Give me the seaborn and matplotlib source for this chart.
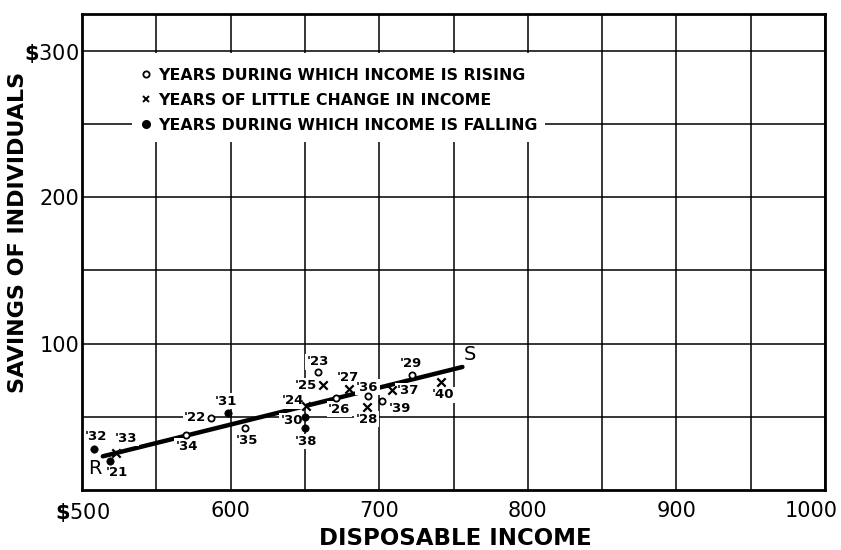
import numpy as np
import pandas as pd
import matplotlib
matplotlib.use("Agg")
import matplotlib.pyplot as plt
import seaborn as sns
from matplotlib.lines import Line2D
from matplotlib.patches import Rectangle
from matplotlib.transforms import ScaledTranslation

# ---------------- data ----------------
years = ["'21", "'22", "'23", "'24", "'25", "'26", "'27", "'28", "'29", "'30",
         "'31", "'32", "'33", "'34", "'35", "'36", "'37", "'38", "'39", "'40"]
income = [518.8, 587, 658.6, 650.8, 662, 671, 680, 691.5, 722, 650,
          598, 508.3, 523, 570, 610, 692.6, 708.5, 650, 702, 741.8]
savings = [20, 49, 80.6, 57.5, 71.4, 62.8, 69, 56.6, 78.8, 50,
           52.5, 28, 25.5, 37.5, 42, 64, 68, 42, 61, 73.8]
trend = ["falling", "rising", "rising", "little", "little", "rising", "little", "little", "rising", "falling",
         "falling", "falling", "little", "rising", "rising", "rising", "little", "falling", "rising", "little"]

line_income = [514, 756]
line_savings = [23, 84]
line_labels = ["R", "S"]

x_ticks = [500, 600, 700, 800, 900, 1000]
x_tick_labels = [r"$\mathbf{\$}$500", "600", "700", "800", "900", "1000"]
y_ticks = [100, 200, 300]
y_tick_labels = ["100", "200", r"$\mathbf{\$}$300"]
legend_labels = ["YEARS DURING WHICH INCOME IS RISING",
                 "YEARS OF LITTLE CHANGE IN INCOME",
                 "YEARS DURING WHICH INCOME IS FALLING"]
x_label = "DISPOSABLE INCOME"
y_label = "SAVINGS OF INDIVIDUALS"

# label offsets in pixels (dx, dy up)
label_offsets = {"'32": (2, 12), "'33": (10, 14), "'21": (7, -12), "'22": (-16, 1),
                 "'31": (-2, 12), "'34": (1, -11), "'35": (1, -12), "'24": (-13, 5),
                 "'30": (-13, -4), "'38": (1, -13), "'23": (0, 10), "'25": (-17, 0),
                 "'27": (-2, 11), "'26": (3, -11), "'36": (-1, 9), "'28": (0, -12),
                 "'37": (16, 0), "'39": (18, -8), "'29": (-1, 11), "'40": (2, -13)}
line_label_offsets = [(-8, -12), (8, 12)]

df = pd.DataFrame({"year": years, "income": income, "savings": savings, "trend": trend})

# ---------------- style ----------------
sns.set_theme(style="white")
plt.rcParams["font.family"] = ["DejaVu Sans"]
plt.rcParams["axes.axisbelow"] = True
for k in ["text.color", "axes.labelcolor", "xtick.color", "ytick.color", "axes.edgecolor"]:
    plt.rcParams[k] = "black"

fig = plt.figure(figsize=(8.41, 5.5), dpi=100)
ax = fig.add_axes([82 / 841, 60 / 550, 743 / 841, 476 / 550])

ax.set_xlim(500, 1000)
ax.set_ylim(0, 325)

ax.set_xticks(x_ticks)
ax.set_xticks([550, 650, 750, 850, 950], minor=True)
ax.set_yticks(y_ticks)
ax.set_yticks([50, 150, 250], minor=True)
ax.set_xticklabels(x_tick_labels, fontsize=15, color="black")
ax.set_yticklabels(y_tick_labels, fontsize=15, color="black")
ax.tick_params(axis="both", which="both", length=0, colors="black")
ax.tick_params(axis="x", pad=8)
ax.tick_params(axis="y", pad=2)
ax.grid(True, which="both", color="black", linewidth=1.1)

for s in ax.spines.values():
    s.set_color("black")
    s.set_linewidth(2.0)
    s.set_visible(True)

# shift the last x tick label left so it stays inside
lab = ax.get_xticklabels()[-1]
lab.set_transform(lab.get_transform() + ScaledTranslation(-0.14, 0, fig.dpi_scale_trans))

# white area behind the legend text
ax.add_patch(Rectangle((0.0673, 0.731), 0.556, 0.187, transform=ax.transAxes,
                       facecolor="white", edgecolor="none", zorder=1))

# regression line
sns.lineplot(x=line_income, y=line_savings, color="black", linewidth=3.2, ax=ax,
             sort=False, zorder=2)
for xi, yi, t, (dx, dy) in zip(line_income, line_savings, line_labels, line_label_offsets):
    ax.annotate(t, (xi, yi), xytext=(dx, dy), textcoords="offset pixels",
                ha="center", va="center", fontsize=14, color="black", zorder=3)

# points
rising = df[df.trend == "rising"]
little = df[df.trend == "little"]
falling = df[df.trend == "falling"]
sns.scatterplot(data=rising, x="income", y="savings", marker="o", s=20,
                facecolor="white", edgecolor="black", linewidth=1.3, ax=ax, zorder=5)
sns.scatterplot(data=little, x="income", y="savings", marker="x", s=36,
                color="black", linewidth=1.6, ax=ax, zorder=5)
sns.scatterplot(data=falling, x="income", y="savings", marker="o", s=28,
                color="black", edgecolor="black", linewidth=0.5, ax=ax, zorder=5)

for _, r in df.iterrows():
    dx, dy = label_offsets[r["year"]]
    ax.annotate(r["year"], (r["income"], r["savings"]), xytext=(dx, dy),
                textcoords="offset pixels", ha="center", va="center",
                fontsize=9.5, fontweight="bold", color="black", zorder=4,
                bbox=dict(boxstyle="square,pad=0.1", facecolor="white", edgecolor="none"))

ax.set_xlabel(x_label, fontsize=16.5, fontweight="bold", color="black")
ax.set_ylabel(y_label, fontsize=16, fontweight="bold", color="black")
ax.xaxis.set_label_coords(0.502, -0.078)
ax.yaxis.set_label_coords(-0.073, 0.542)

handles = [
    Line2D([], [], linestyle="none", marker="o", markersize=4.5, markerfacecolor="white",
           markeredgecolor="black", markeredgewidth=1.3),
    Line2D([], [], linestyle="none", marker="x", markersize=5, color="black", markeredgewidth=1.4),
    Line2D([], [], linestyle="none", marker="o", markersize=5.5, color="black"),
]
leg = ax.legend(handles, legend_labels, loc="upper left", bbox_to_anchor=(0.0798, 0.887),
                frameon=False, prop={"size": 11.3, "weight": "bold"},
                handlelength=0.6, handletextpad=0.5, labelspacing=0.64,
                borderpad=0, borderaxespad=0)
for t in leg.get_texts():
    t.set_color("black")

fig.savefig("out.png", dpi=100)
